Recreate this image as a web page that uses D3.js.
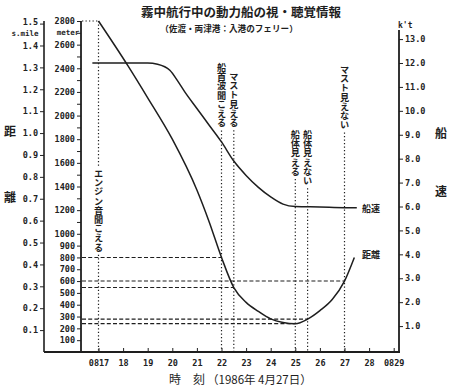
<!DOCTYPE html>
<html><head><meta charset="utf-8">
<script src="https://cdn.jsdelivr.net/npm/d3@7"></script>
<style>
html,body{margin:0;padding:0;background:#fff;}
svg{display:block;}
.tk text{font-family:"DejaVu Sans Mono",monospace;font-weight:bold;font-size:8.5px;fill:#222;}
.tk line,.tk path{stroke:#222;}
</style></head>
<body><div id="chart"></div>
<script>
// ---- data ----
const distTime = [17, 18.2, 19, 20, 21, 21.5, 22, 22.5, 23, 23.5, 24, 24.5, 25, 25.5, 26, 26.5, 27, 27.4];
const distMeter = [2800, 2420, 2150, 1800, 1370, 1100, 800, 545, 420, 343, 280, 250, 240, 278, 350, 444, 600, 800];
const speedTime = [16.75, 17, 18, 19, 19.4, 19.9, 20.25, 20.5, 21, 21.5, 22, 22.5, 23, 23.5, 24, 24.5, 25, 26, 27, 27.5];
const speedKnot = [12.0, 12.0, 12.0, 12.0, 11.95, 11.7, 11.2, 10.8, 10.1, 9.4, 8.7, 7.9, 7.3, 6.8, 6.4, 6.1, 6.0, 5.98, 5.95, 5.95];
const eventTime = [17, 22, 22.5, 25, 25.5, 27];
const eventLabel = ["エンジン音聞こえる", "船首波聞こえる", "マスト見える", "船体見える", "船体見えない", "マスト見えない"];
const eventDist = [2800, 800, 545, 240, 278, 600];
const timeTicks = [17, 18, 19, 20, 21, 22, 23, 24, 25, 26, 27, 28, 29];
const timeTickLabels = ["0817", "18", "19", "20", "21", "22", "23", "24", "25", "26", "27", "28", "0829"];
const mileTicks = [0.1, 0.2, 0.3, 0.4, 0.5, 0.6, 0.7, 0.8, 0.9, 1.0, 1.1, 1.2, 1.3, 1.4, 1.5];
const meterTicks = [100, 200, 300, 400, 500, 600, 700, 800, 900, 1000, 1200, 1400, 1600, 1800, 2000, 2200, 2400, 2600, 2800];
const meterMinor = [1100, 1300, 1500, 1700, 1900, 2100, 2300, 2500, 2700];
const knotTicks = [1, 2, 3, 4, 5, 6, 7, 8, 9, 10, 11, 12, 13];
const METERS_PER_MILE = 1852;

// ---- layout ----
const W = 450, H = 389;
const svg = d3.select("#chart").append("svg").attr("width", W).attr("height", H);
const x = d3.scaleLinear().domain([17, 29]).range([98.5, 393.7]);
const yM = d3.scaleLinear().domain([0, 2800]).range([352, 21]);
const yNm = d3.scaleLinear().domain([0, 2800 / METERS_PER_MILE]).range([352, 21]);
const yK = d3.scaleLinear().domain([0, 12]).range([350, 63]);
const ink = "#1e1e1e";
const jp = "'Noto Sans CJK JP', sans-serif";
const mono = "'DejaVu Sans Mono',monospace";

// title
svg.append("text").attr("x", 241).attr("y", 17).attr("text-anchor", "middle")
  .style("font-family", jp).style("font-weight", "bold").style("font-size", "12.5px").attr("fill", ink)
  .text("霧中航行中の動力船の視・聴覚情報");
svg.append("text").attr("x", 229).attr("y", 32).attr("text-anchor", "middle")
  .style("font-family", jp).style("font-weight", "bold").style("font-size", "8.6px").attr("fill", ink)
  .text("（佐渡・両津港：入港のフェリー）");

// left mile axis
const gNm = svg.append("g").attr("class", "tk").attr("transform", "translate(44,0)")
  .call(d3.axisLeft(yNm).tickValues(mileTicks).tickSize(4).tickSizeOuter(0).tickFormat(d3.format(".1f")));
gNm.select(".domain").remove();
gNm.selectAll(".tick text").attr("x", -6);
gNm.selectAll(".tick").filter(d => d === 1.5).select("text").attr("dy", "0.1em");
svg.append("line").attr("x1", 44).attr("x2", 44).attr("y1", 21).attr("y2", 352).attr("stroke", ink).attr("stroke-width", 1.6);
svg.append("text").attr("x", 25).attr("y", 35.5).attr("text-anchor", "middle")
  .style("font-family", mono).style("font-weight", "bold").style("font-size", "7.5px").attr("fill", ink).text("s.mile");

// meter axis
const gM = svg.append("g").attr("class", "tk").attr("transform", "translate(81,0)")
  .call(d3.axisLeft(yM).tickValues(meterTicks).tickSize(4).tickSizeOuter(0).tickFormat(d3.format("d")));
gM.select(".domain").remove();
gM.selectAll(".tick text").attr("x", -6);
svg.append("g").attr("class", "tk").attr("transform", "translate(81,0)")
  .call(d3.axisLeft(yM).tickValues(meterMinor).tickSize(4).tickSizeOuter(0).tickFormat(""))
  .select(".domain").remove();
svg.append("line").attr("x1", 81).attr("x2", 81).attr("y1", 21).attr("y2", 352).attr("stroke", ink).attr("stroke-width", 1.8);
svg.append("text").attr("x", 68).attr("y", 34.5).attr("text-anchor", "middle")
  .style("font-family", mono).style("font-weight", "bold").style("font-size", "7.5px").attr("fill", ink).text("meter");

// right knot axis
const gK = svg.append("g").attr("class", "tk").attr("transform", "translate(399,0)")
  .call(d3.axisRight(yK).tickValues(knotTicks).tickSize(4).tickSizeOuter(0).tickFormat(d3.format(".1f")));
gK.select(".domain").remove();
gK.selectAll(".tick text").attr("x", 6);
svg.append("line").attr("x1", 399).attr("x2", 399).attr("y1", 30).attr("y2", 353).attr("stroke", ink).attr("stroke-width", 1.8);
svg.append("text").attr("x", 398).attr("y", 28)
  .style("font-family", mono).style("font-weight", "bold").style("font-size", "8px").attr("fill", ink).text("k't");

// bottom axis
svg.append("line").attr("x1", 44).attr("x2", 400).attr("y1", 352).attr("y2", 352).attr("stroke", ink).attr("stroke-width", 2);
const gX = svg.append("g").attr("class", "tk").attr("transform", "translate(0,352)")
  .call(d3.axisTop(x).tickValues(timeTicks).tickSize(4).tickSizeOuter(0).tickFormat((d, i) => timeTickLabels[i]));
gX.select(".domain").remove();
gX.selectAll(".tick text").attr("y", 11).attr("dy", "0.35em");

// side labels
[["距", 10, 136], ["離", 10, 202], ["船", 441, 138], ["速", 441, 196]].forEach(([t, px, py]) => {
  svg.append("text").attr("x", px).attr("y", py).attr("text-anchor", "middle")
    .style("font-family", jp).style("font-weight", "bold").style("font-size", "12px").attr("fill", ink).text(t);
});

// x label
svg.append("text").attr("x", 175).attr("y", 384).attr("text-anchor", "middle")
  .style("font-family", jp).style("font-size", "12px").attr("fill", ink).text("時");
svg.append("text").attr("x", 199).attr("y", 384).attr("text-anchor", "middle")
  .style("font-family", jp).style("font-size", "12px").attr("fill", ink).text("刻");
svg.append("text").attr("x", 207).attr("y", 384)
  .style("font-family", jp).style("font-size", "11.5px").attr("fill", ink).text("（1986年 4月27日）");

// horizontal reference lines
eventTime.forEach((t, i) => {
  svg.append("line").attr("x1", 82).attr("x2", x(t)).attr("y1", yM(eventDist[i])).attr("y2", yM(eventDist[i]))
    .attr("stroke", ink).attr("stroke-width", 1.1).attr("stroke-dasharray", i === 0 ? "1.3,2.2" : "4,2.2");
});

// vertical event lines and labels
const fs = 9.2;
const labelTop = [169, 63, 72, 130, 130, 65];
eventTime.forEach((t, i) => {
  const xx = x(t);
  const top = labelTop[i];
  const bottom = top + eventLabel[i].length * fs;
  if (i === 0) {
    svg.append("line").attr("x1", xx).attr("x2", xx).attr("y1", yM(eventDist[0])).attr("y2", top - 2)
      .attr("stroke", ink).attr("stroke-width", 1.2).attr("stroke-dasharray", "1.3,2.2");
  }
  svg.append("line").attr("x1", xx).attr("x2", xx).attr("y1", bottom + 3).attr("y2", 352)
    .attr("stroke", ink).attr("stroke-width", 1.2).attr("stroke-dasharray", "1.3,2.2");
  svg.append("text").attr("x", xx).attr("y", top)
    .style("writing-mode", "vertical-rl").style("font-family", jp).style("font-weight", "bold")
    .style("font-size", fs + "px").attr("fill", ink).text(eventLabel[i]);
});

// curves
const distLine = d3.line().x((d, i) => x(distTime[i])).y(d => yM(d)).curve(d3.curveMonotoneX);
svg.append("path").attr("d", distLine(distMeter)).attr("fill", "none").attr("stroke", ink).attr("stroke-width", 1.5);
const speedLine = d3.line().x((d, i) => x(speedTime[i])).y(d => yK(d)).curve(d3.curveMonotoneX);
svg.append("path").attr("d", speedLine(speedKnot)).attr("fill", "none").attr("stroke", ink).attr("stroke-width", 1.5);

// curve labels
svg.append("text").attr("x", 362).attr("y", 212)
  .style("font-family", jp).style("font-weight", "bold").style("font-size", "9px").attr("fill", ink).text("船速");
svg.append("text").attr("x", 362).attr("y", 258)
  .style("font-family", jp).style("font-weight", "bold").style("font-size", "9px").attr("fill", ink).text("距離");
</script></body></html>
